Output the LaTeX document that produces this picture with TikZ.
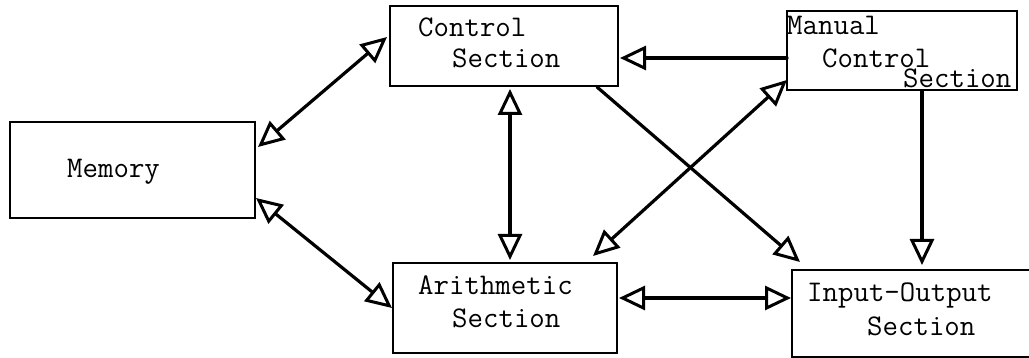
\documentclass[tikz,border=0pt]{standalone}
\usetikzlibrary{arrows.meta,calc}
\begin{document}
\begin{tikzpicture}[x=1pt,y=-1pt,
  box/.style={draw,line width=2.6pt,inner sep=0pt,outer sep=0pt},
  lbl/.style={font=\ttfamily\fontsize{30}{32}\selectfont,inner sep=0pt,anchor=base west},
  conn/.style={line width=3.2pt,line cap=round},
  tip/.tip={Triangle[open,length=26pt,width=24pt,line width=3pt]}
]
\useasboundingbox (0,0) rectangle (1029,358);
\clip (0,0) rectangle (1029,358);
% boxes
\node[box,minimum width=245pt,minimum height=96pt] (mem) at (132.5,170) {};
\node[box,minimum width=228pt,minimum height=80pt] (ctrl) at (504,46) {};
\node[box,minimum width=230pt,minimum height=79pt] (man) at (902,50.5) {};
\node[box,minimum width=224pt,minimum height=90pt] (ari) at (505,308) {};
\node[box,minimum width=243pt,minimum height=87pt] (io) at (913.5,313.5) {};
% labels
\node[lbl] (tmem) at (67,178) {Memory};
\node[lbl] (tc1) at (418,37) {Control};
\node[lbl] (tc2) at (452,68) {Section};
\node[lbl] (tm1) at (787,35) {Manual};
\node[lbl] (tm2) at (822,68) {Control};
\node[lbl] (tm3) at (903,88) {Section};
\node[lbl] (ta1) at (418,295) {Arithmetic};
\node[lbl] (ta2) at (452,327) {Section};
\node[lbl] (ti1) at (807,302) {Input-Output};
\node[lbl] (ti2) at (867,335) {Section};
% connectors
\draw[conn,tip-tip] ($(mem.north east)+(3,25)$) -- ($(ctrl.north west)+(-3,31)$);
\draw[conn,tip-tip] ($(mem.north east)+(1,76)$) -- ($(ari.north west)+(-1,45)$);
\draw[conn,tip-tip] ($(ctrl.south west)+(120,3)$) -- ($(ari.north west)+(117,-3)$);
\draw[conn,-tip] ($(man.north west)+(0,47)$) -- ($(ctrl.north east)+(2,52)$);
\draw[conn,tip-tip] ($(man.south west)+(0,-10)$) -- ($(ari.north west)+(200,-7)$);
\draw[conn,-tip] ($(ctrl.south east)+(-21,1)$) -- ($(io.north west)+(8,-8)$);
\draw[conn,-tip] ($(man.south west)+(135,1)$) -- ($(io.north west)+(130,-5)$);
\draw[conn,tip-tip] ($(ari.north east)+(2,35)$) -- ($(io.north west)+(-1,28)$);
\end{tikzpicture}
\end{document}
